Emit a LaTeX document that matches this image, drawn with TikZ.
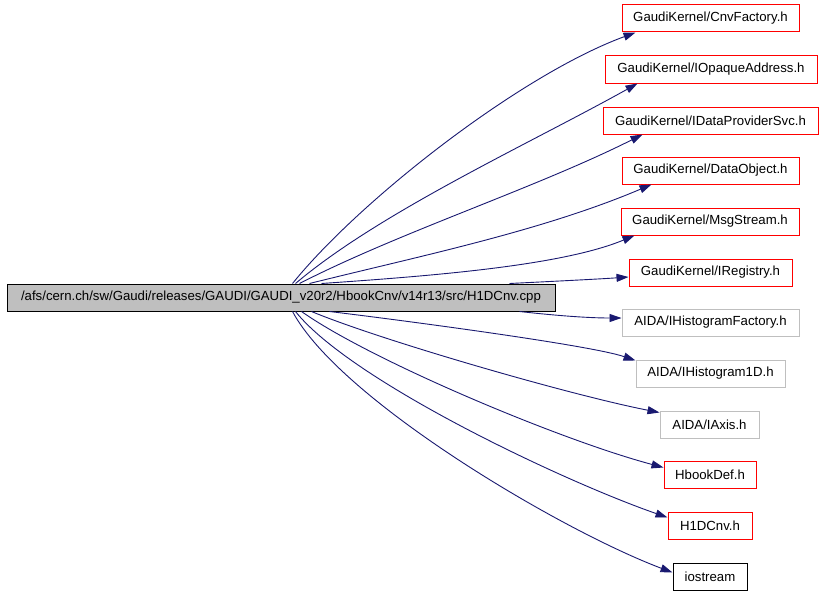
\documentclass[tikz,border=0pt]{standalone}
\usepackage{fontspec}
\setmainfont{Liberation Sans}
\usetikzlibrary{arrows.meta}
\definecolor{edgeblue}{HTML}{191970}
\definecolor{boxgray}{HTML}{BFBFBF}
\begin{document}
\begin{tikzpicture}[x=1pt,y=-1pt,
  box/.style={draw, rectangle, line width=1pt, inner sep=0pt, minimum height=27pt,
    font=\fontsize{13.2}{15}\selectfont, text=black},
  redbox/.style={box, draw=red},
  graybox/.style={box, draw=boxgray},
  blackbox/.style={box, draw=black},
  mainbox/.style={box, draw=black, fill=boxgray},
  dep/.style={draw=edgeblue, line width=0.9pt, -{Triangle[length=12pt,width=8pt]}, fill=none},
]
\useasboundingbox (0,0) rectangle (821,594);
\node[mainbox, minimum width=548pt] (main) at (281,297.5) {/afs/cern.ch/sw/Gaudi/releases/GAUDI/GAUDI\_v20r2/HbookCnv/v14r13/src/H1DCnv.cpp};
\node[redbox, minimum width=177pt] (cnv) at (710.5,18.5) {GaudiKernel/CnvFactory.h};
\node[redbox, minimum width=212pt] (opq) at (711,69.5) {GaudiKernel/IOpaqueAddress.h};
\node[redbox, minimum width=215pt] (dps) at (710.5,120.5) {GaudiKernel/IDataProviderSvc.h};
\node[redbox, minimum width=177pt] (dob) at (710.5,170.5) {GaudiKernel/DataObject.h};
\node[redbox, minimum width=178pt] (msg) at (710,221.5) {GaudiKernel/MsgStream.h};
\node[redbox, minimum width=163pt] (reg) at (710.5,272.5) {GaudiKernel/IRegistry.h};
\node[graybox, minimum width=177pt] (hfac) at (710.5,322.5) {AIDA/IHistogramFactory.h};
\node[graybox, minimum width=149pt] (h1d) at (710.5,373.5) {AIDA/IHistogram1D.h};
\node[graybox, minimum width=99pt] (axis) at (709.5,424.5) {AIDA/IAxis.h};
\node[redbox, minimum width=92pt] (hbd) at (710,474.5) {HbookDef.h};
\node[redbox, minimum width=84pt] (h1dc) at (710,525.5) {H1DCnv.h};
\node[blackbox, minimum width=74pt] (ios) at (710,576.5) {iostream};

\draw[dep] ([xshift=286pt]main.north west) .. controls (360,200) and (520,75) .. ([xshift=14pt]cnv.south west);
\draw[dep] ([xshift=289pt]main.north west) .. controls (380,212) and (529,144) .. ([xshift=33pt]opq.south west);
\draw[dep] ([xshift=293pt]main.north west) .. controls (400,232) and (536,188) .. ([xshift=40pt]dps.south west);
\draw[dep] ([xshift=303pt]main.north west) .. controls (420,256) and (542,231) .. ([xshift=30pt]dob.south west);
\draw[dep] ([xshift=315pt]main.north west) .. controls (430,276) and (561,266) .. ([xshift=14pt]msg.south west);
\draw[dep] ([xshift=503pt]main.north west) .. controls (560,281) and (600,279) .. ([yshift=-4.5pt]reg.west);
\draw[dep] ([xshift=513pt]main.south west) .. controls (560,316) and (590,318) .. ([yshift=4.5pt]hfac.west);
\draw[dep] ([xshift=323pt]main.south west) .. controls (400,320) and (590,345) .. ([yshift=-1pt]h1d.north west);
\draw[dep] ([xshift=305pt]main.south west) .. controls (380,340) and (570,395) .. ([yshift=-2pt]axis.north west);
\draw[dep] ([xshift=295pt]main.south west) .. controls (370,360) and (560,440) .. ([yshift=-7pt]hbd.north west);
\draw[dep] ([xshift=289pt]main.south west) .. controls (350,380) and (560,480) .. ([yshift=-6pt]h1dc.north west);
\draw[dep] ([xshift=286pt]main.south west) .. controls (340,400) and (560,530) .. ([yshift=-10pt]ios.north west);
\end{tikzpicture}
\end{document}
